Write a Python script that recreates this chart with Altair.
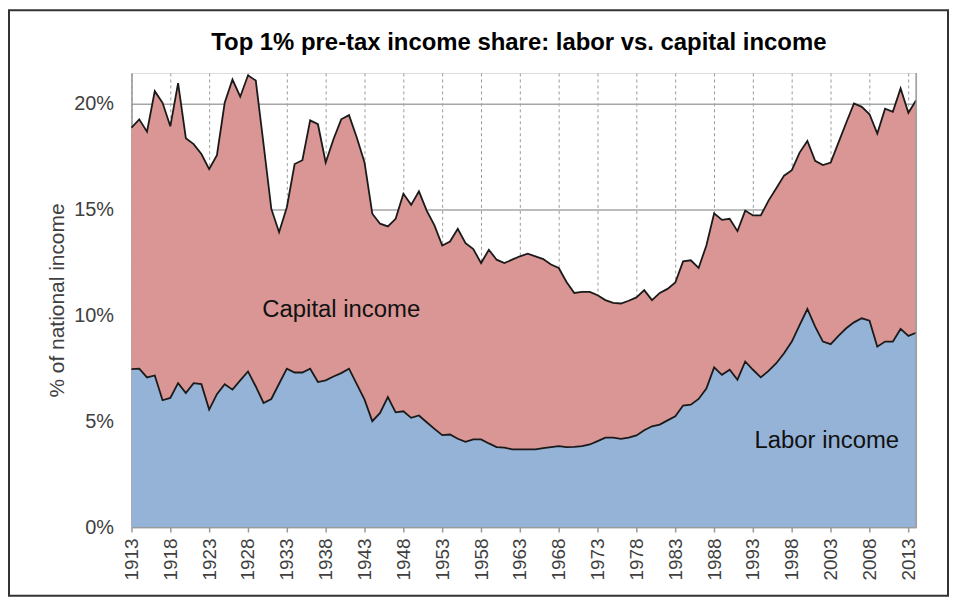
import altair as alt
import pandas as pd

# ---- data, % of national income ----
years = list(range(1913, 2015))
total_share = [
    18.87, 19.26, 18.68, 20.59, 20.04, 18.93, 20.97, 18.37, 18.09, 17.62,  # 1913-1922
    16.91, 17.57, 20.04, 21.14, 20.33, 21.34, 21.09, 18.09, 15.03, 13.93,  # 1923-1932
    15.11, 17.15, 17.33, 19.21, 19.03, 17.22, 18.32, 19.26, 19.46, 18.40,  # 1933-1942
    17.22, 14.80, 14.33, 14.20, 14.56, 15.74, 15.22, 15.86, 14.95, 14.25,  # 1943-1952
    13.30, 13.49, 14.09, 13.41, 13.13, 12.47, 13.10, 12.63, 12.47, 12.63,  # 1953-1962
    12.79, 12.91, 12.79, 12.66, 12.40, 12.24, 11.58, 11.06, 11.11, 11.11,  # 1963-1972
    10.95, 10.72, 10.59, 10.56, 10.69, 10.85, 11.19, 10.72, 11.06, 11.25,  # 1973-1982
    11.55, 12.55, 12.60, 12.24, 13.30, 14.82, 14.51, 14.56, 13.98, 14.95,  # 1983-1992
    14.72, 14.72, 15.42, 16.00, 16.60, 16.86, 17.69, 18.24, 17.30, 17.10,  # 1993-2002
    17.22, 18.16, 19.10, 20.01, 19.85, 19.50, 18.59, 19.76, 19.62, 20.72,  # 2003-2012
    19.57, 20.16,                                                          # 2013-2014
]
labor_share = [
    7.46, 7.48, 7.07, 7.16, 5.99, 6.10, 6.80, 6.33, 6.80, 6.75,  # 1913-1922
    5.55, 6.28, 6.75, 6.49, 6.93, 7.35, 6.64, 5.86, 6.05, 6.77,  # 1923-1932
    7.48, 7.30, 7.30, 7.48, 6.85, 6.93, 7.11, 7.27, 7.48, 6.75,  # 1933-1942
    6.02, 5.00, 5.39, 6.14, 5.42, 5.47, 5.16, 5.27, 4.95, 4.64,  # 1943-1952
    4.34, 4.37, 4.17, 4.03, 4.14, 4.14, 3.95, 3.78, 3.75, 3.67,  # 1953-1962
    3.67, 3.67, 3.67, 3.73, 3.78, 3.82, 3.78, 3.79, 3.82, 3.90,  # 1963-1972
    4.06, 4.22, 4.22, 4.17, 4.22, 4.33, 4.57, 4.76, 4.84, 5.04,  # 1973-1982
    5.23, 5.74, 5.78, 6.05, 6.54, 7.54, 7.19, 7.43, 6.96, 7.82,  # 1983-1992
    7.43, 7.07, 7.38, 7.74, 8.21, 8.76, 9.54, 10.30, 9.47, 8.76,  # 1993-2002
    8.64, 9.03, 9.39, 9.67, 9.86, 9.75, 8.52, 8.76, 8.76, 9.36,  # 2003-2012
    9.03, 9.18,                                                  # 2013-2014
]
tick_years = list(range(1913, 2014, 5))
y_ticks = [0, 5, 10, 15, 20]
series_labels = ["Capital income", "Labor income"]
chart_title = "Top 1% pre-tax income share: labor vs. capital income"
y_title = "% of national income"

df = pd.DataFrame({"year": years, "total": total_share, "labor": labor_share})

W, H = 788, 456
PAD_L, PAD_T, PAD_R, PAD_B = 124, 64, 33, 70
FONT = "Liberation Sans"
CAP_COLOR = "#D99694"
LAB_COLOR = "#95B3D7"
LINE_COLOR = "#1a1a1a"
AXIS_GREY = "#9a9a9a"

x_scale = alt.Scale(domain=[1913, 2014], nice=False, zero=False)
y_scale = alt.Scale(domain=[0, 21.45], nice=False)

x_axis = alt.Axis(
    values=tick_years, tickCount=60, format="d", labelAngle=270, labelOverlap=False,
    labelFont=FONT, labelFontSize=19, labelColor="#404040", labelPadding=6,
    tickSize=5, tickColor=AXIS_GREY, tickWidth=1.5,
    domainColor=AXIS_GREY, domainWidth=1.5,
    grid=True, gridDash=[3, 3], gridColor="#9a9a9a", gridWidth=1,
    title=None,
)
y_axis = alt.Axis(
    values=y_ticks, tickCount=20, labelExpr="datum.value + '%'",
    labelFont=FONT, labelFontSize=20, labelColor="#404040", labelPadding=18,
    ticks=False, domainColor=AXIS_GREY, domainWidth=1.5,
    grid=True, gridColor="#a6a6a6", gridWidth=1.5,
    title=y_title, titleFont=FONT, titleFontSize=21, titleFontWeight="normal",
    titleColor="#404040", titlePadding=6,
)

base = alt.Chart(df)
cap_area = base.mark_area(color=CAP_COLOR, opacity=1).encode(
    x=alt.X("year:Q", scale=x_scale, axis=x_axis),
    y=alt.Y("total:Q", scale=y_scale, axis=y_axis),
)
lab_area = base.mark_area(color=LAB_COLOR, opacity=1).encode(
    x="year:Q", y="labor:Q"
)
total_line = base.mark_line(color=LINE_COLOR, strokeWidth=1.8).encode(
    x="year:Q", y="total:Q"
)
labor_line = base.mark_line(color=LINE_COLOR, strokeWidth=1.8).encode(
    x="year:Q", y="labor:Q"
)
one = pd.DataFrame({"k": [0]})
right_edge = alt.Chart(one).mark_rule(
    color=AXIS_GREY, strokeWidth=1.5
).encode(x=alt.datum(2014), y=alt.value(0), y2=alt.value(H))

cap_text = alt.Chart(pd.DataFrame({"t": [series_labels[0]]})).mark_text(
    font=FONT, fontSize=24, color="#111111", align="center", baseline="middle"
).encode(x=alt.datum(1940), y=alt.datum(10.25), text="t:N")
lab_text = alt.Chart(pd.DataFrame({"t": [series_labels[1]]})).mark_text(
    font=FONT, fontSize=24, color="#111111", align="center", baseline="middle"
).encode(x=alt.datum(2002.5), y=alt.datum(4.07), text="t:N")

title_text = alt.Chart(pd.DataFrame({"t": [chart_title]})).mark_text(
    font=FONT, fontSize=24, fontWeight="bold", color="#000000",
    align="center", baseline="alphabetic",
).encode(x=alt.value(W / 2 - 5), y=alt.value(-23), text="t:N")

frame = alt.Chart(one).mark_rect(
    fillOpacity=0, stroke="#333333", strokeWidth=2
).encode(
    x=alt.value(-PAD_L + 1), x2=alt.value(W + PAD_R - 1),
    y=alt.value(-PAD_T + 1), y2=alt.value(H + PAD_B - 1),
)

chart = alt.layer(
    cap_area, lab_area, total_line, labor_line, right_edge,
    cap_text, lab_text, title_text, frame,
).properties(
    width=W, height=H,
    autosize=alt.AutoSizeParams(type="none"),
    padding={"left": PAD_L, "top": PAD_T, "right": PAD_R, "bottom": PAD_B},
).configure_view(stroke="transparent").configure(background="white")

chart.save("out.html", embed_options={"renderer": "svg", "actions": False})
